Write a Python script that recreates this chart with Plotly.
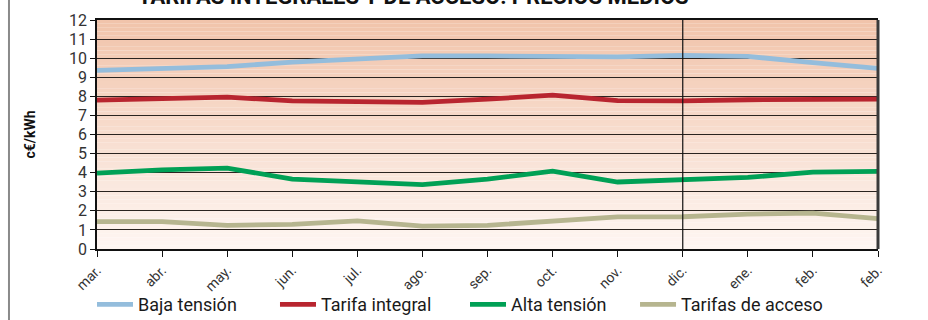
import plotly.graph_objects as go

# Monthly average prices, c€/kWh
months = ["mar.", "abr.", "may.", "jun.", "jul.", "ago.", "sep.",
          "oct.", "nov.", "dic.", "ene.", "feb.", "feb."]

baja_tension = [9.36, 9.44, 9.56, 9.79, 9.96, 10.12, 10.12,
                10.09, 10.07, 10.15, 10.09, 9.77, 9.46]
tarifa_integral = [7.80, 7.90, 7.96, 7.76, 7.71, 7.68, 7.85,
                   8.06, 7.78, 7.76, 7.82, 7.85, 7.85]
alta_tension = [3.98, 4.15, 4.24, 3.66, 3.52, 3.37, 3.66,
                4.08, 3.51, 3.60, 3.75, 4.03, 4.07]
tarifas_acceso = [1.43, 1.43, 1.24, 1.29, 1.47, 1.20, 1.24,
                  1.43, 1.68, 1.69, 1.83, 1.88, 1.59]

series = [
    ("Baja tensión", baja_tension, "#94BDDC"),
    ("Tarifa integral", tarifa_integral, "#B8252F"),
    ("Alta tensión", alta_tension, "#00A055"),
    ("Tarifas de acceso", tarifas_acceso, "#B6B58F"),
]

FONT = "Roboto, Liberation Sans, Arial, sans-serif"
x_pos = list(range(len(months)))

fig = go.Figure()

legend_names = ["legend", "legend2", "legend3", "legend4"]
legend_x = [-0.0064, 0.2279, 0.4712, 0.6889]
for (name, vals, color), lg in zip(series, legend_names):
    fig.add_trace(go.Scatter(
        x=x_pos, y=vals, name=name, mode="lines",
        line=dict(color=color, width=4.8),
        legend=lg, hoverinfo="skip",
    ))

# Vertical gradient behind the plot area
shapes = []
top = (0xF1, 0xC4, 0xAB)
bot = (0xFE, 0xF6, 0xF2)
n = 60
for i in range(n):
    t = i / (n - 1)
    c = tuple(round(top[k] + (bot[k] - top[k]) * t) for k in range(3))
    shapes.append(dict(
        type="rect", xref="x domain", yref="y domain",
        x0=0, x1=1, y0=1 - (i + 1) / n, y1=1 - i / n,
        fillcolor="rgb(%d,%d,%d)" % c, line=dict(width=0), layer="below",
    ))
# right border of the frame
shapes.append(dict(type="line", xref="x domain", yref="y domain",
                   x0=1, x1=1, y0=0, y1=1,
                   line=dict(color="#3a3a3a", width=3), layer="above"))
# outer box edge on the left
shapes.append(dict(type="line", xref="paper", yref="paper",
                   x0=-0.1127, x1=-0.1127, y0=-0.5, y1=1.3,
                   line=dict(color="#8a8a8a", width=2)))
fig.update_layout(shapes=shapes)

# separator at December
fig.add_vline(x=months.index("dic."), line=dict(color="#111111", width=1.2))

layout_legends = {}
for lg, lx in zip(legend_names, legend_x):
    layout_legends[lg] = dict(
        x=lx, y=-0.243, xanchor="left", yanchor="middle",
        orientation="h", bgcolor="rgba(0,0,0,0)",
        font=dict(family=FONT, size=18, color="#1a1a1a"),
        itemwidth=36,
    )

fig.update_layout(
    width=928, height=320,
    margin=dict(l=97, r=50, t=20, b=71, autoexpand=False),
    paper_bgcolor="white",
    plot_bgcolor="white",
    showlegend=True,
    **layout_legends,
    xaxis=dict(
        range=[0, len(months) - 1],
        tickmode="array", tickvals=x_pos, ticktext=months,
        tickangle=-45, automargin=False,
        ticks="outside", ticklen=6, tickcolor="#111111", tickwidth=1,
        showgrid=False, zeroline=False,
        showline=True, linecolor="#111111", linewidth=1.5, mirror=True,
        tickfont=dict(family=FONT, size=14, color="#333333"),
    ),
    yaxis=dict(
        range=[0, 12], dtick=1, automargin=False,
        ticks="outside", ticklen=5, tickcolor="#111111", tickwidth=1,
        showgrid=True, gridcolor="#2a2420", gridwidth=1.2,
        zeroline=False,
        showline=True, linecolor="#111111", linewidth=1.5,
        tickfont=dict(family=FONT, size=16, color="#333333"),
        title=dict(text="<b>c€/kWh</b>", standoff=30,
                   font=dict(family=FONT, size=14, color="#111111")),
    ),
    annotations=[dict(
        text="<b>TARIFAS INTEGRALES Y DE ACCESO: PRECIOS MEDIOS</b>",
        xref="paper", yref="paper", x=0.405, y=1.04,
        xanchor="center", yanchor="bottom", showarrow=False,
        font=dict(family=FONT, size=22, color="#111111"),
    )],
)

fig.write_html("out.html")
